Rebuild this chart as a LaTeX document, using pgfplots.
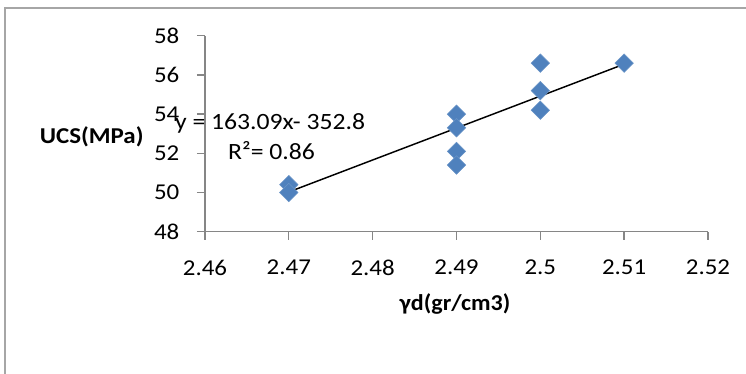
\documentclass[border=0pt]{standalone}
\usepackage{pgfplots}
\pgfplotsset{compat=1.18}
\usepackage{fontspec}
\setmainfont{Carlito}[FakeStretch=1.1]
\newfontfamily\xlabfont{Carlito}[FakeStretch=1.06]
\definecolor{excelblue}{HTML}{4F81BD}
\definecolor{axgray}{HTML}{868686}
\definecolor{framegray}{HTML}{A6A6A6}
\begin{document}
\begin{tikzpicture}
\useasboundingbox (-153.75pt,-106.7pt) rectangle (405.75pt,173.8pt);
\begin{axis}[
  at={(0pt,0pt)}, anchor=south west,
  scale only axis, width=377.25pt, height=147pt,
  xmin=2.46, xmax=2.52, ymin=48, ymax=58,
  xtick={2.46,2.47,2.48,2.49,2.50,2.51,2.52},
  xticklabels={2.46,2.47,2.48,2.49,2.5,2.51,2.52},
  ytick={48,50,52,54,56,58},
  axis x line*=bottom, axis y line*=left,
  axis line style={axgray, line width=1pt, -},
  tick style={axgray, line width=1pt},
  tick align=outside, major tick length=6pt,
  clip=false,
  font=\fontsize{17pt}{20pt}\selectfont,
  /pgf/number format/assume math mode=true,
  xticklabel style={anchor=center, yshift=-20.9pt},
  yticklabel style={anchor=east, xshift=-9.75pt},
  xlabel={\xlabfont\fontsize{17pt}{20pt}\selectfont\bfseries γd(gr/cm3)},
  ylabel={\textbf{UCS(MPa)}},
  every axis x label/.style={at={(axis description cs:0.497,-0.369)}, anchor=center},
  every axis y label/.style={at={(axis description cs:-0.2253,0.4847)}, anchor=center},
]
\addplot[only marks, mark=square*, mark size=4.9pt,
  mark options={rotate=45, fill=excelblue, draw=excelblue!85!white, line width=0.4pt}]
  coordinates {
  (2.47,50.4) (2.47,50.0)
  (2.49,54.0) (2.49,53.3) (2.49,52.1) (2.49,51.4)
  (2.50,56.6) (2.50,55.2) (2.50,54.2)
  (2.51,56.6)
  };
\addplot[black, line width=1.1pt, no marks] coordinates {(2.47,50.03) (2.51,56.55)};
\node[anchor=base west, inner sep=0pt, font=\fontsize{17.5pt}{20pt}\selectfont] at (axis cs:2.4564,53.22) {y = 163.09x- 352.8};
\node[anchor=base west, inner sep=0pt, font=\fontsize{17.5pt}{20pt}\selectfont] at (axis cs:2.46274,51.69) {R²= 0.86};
\end{axis}
\draw[framegray, line width=1.2pt] (-150pt,-130pt) -- (-150pt,167.8pt) -- (420pt,167.8pt);
\end{tikzpicture}
\end{document}
